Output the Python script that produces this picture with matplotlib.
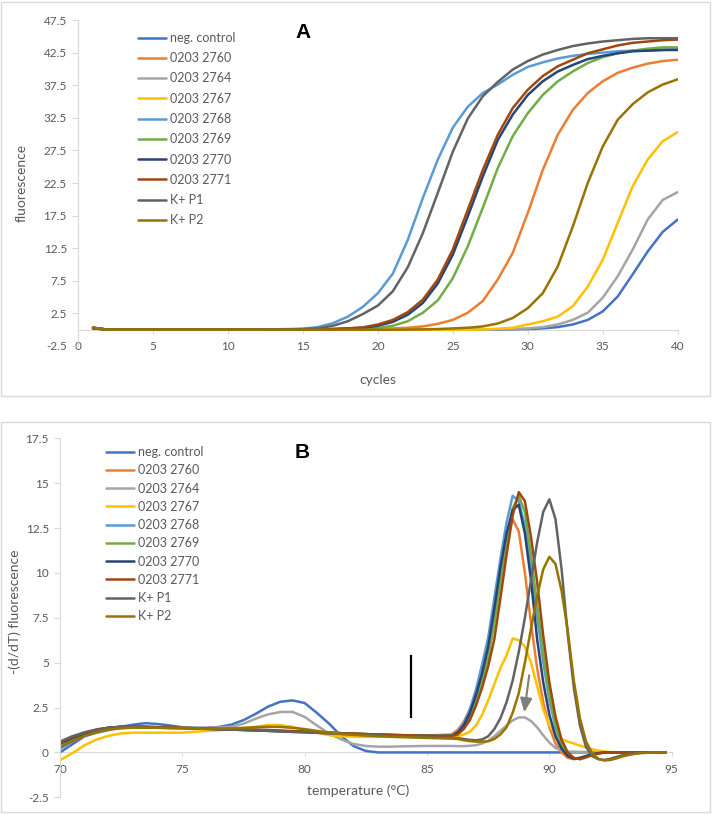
import numpy as np
import matplotlib
matplotlib.use('Agg')
from matplotlib import pyplot as plt
from matplotlib.patches import Rectangle

plt.rcParams['font.family'] = ['Lato', 'DejaVu Sans']

names = ['neg. control', '0203 2760', '0203 2764', '0203 2767', '0203 2768',
         '0203 2769', '0203 2770', '0203 2771', 'K+ P1', 'K+ P2']
colors = ['#4472C4', '#ED7D31', '#A5A5A5', '#FFC000', '#5B9BD5',
          '#70AD47', '#264478', '#9E480E', '#636363', '#997300']

# panel A: amplification, cycles 1..40
cycles = np.arange(1, 41)
z10 = [0] * 10
amp_neg = [0.3] + [0] * 9 + z10 + [0, 0, 0, 0, 0, 0, 0, 0, 0.05, 0.1] + \
    [0.2, 0.4, 0.8, 1.5, 2.8, 5.1, 8.5, 12.0, 15.0, 16.9]
amp_2760 = [0.3] + [0] * 9 + [0, 0, 0, 0, 0, 0, 0.02, 0.05, 0.1, 0.15] + \
    [0.2, 0.3, 0.5, 0.9, 1.5, 2.6, 4.4, 7.7, 11.8, 17.9] + \
    [24.5, 29.9, 33.7, 36.3, 38.1, 39.4, 40.2, 40.8, 41.2, 41.4]
amp_2764 = [0.2] + [0] * 9 + z10 + [0, 0, 0, 0, 0, 0, 0, 0.05, 0.1, 0.2] + \
    [0.4, 0.8, 1.5, 2.6, 4.9, 8.2, 12.3, 16.9, 19.9, 21.1]
amp_2767 = [0.2] + [0] * 9 + z10 + [0, 0, 0, 0, 0, 0, 0.05, 0.15, 0.3, 0.8] + \
    [1.3, 2.0, 3.6, 6.6, 10.7, 16.4, 22.0, 26.1, 28.9, 30.3]
amp_2768 = [0.3] + [0] * 9 + [0, 0.02, 0.05, 0.1, 0.15, 0.4, 1.0, 2.0, 3.5, 5.6] + \
    [8.6, 13.8, 20.2, 26.1, 31.0, 34.2, 36.3, 37.6, 39.1, 40.3] + \
    [41.0, 41.6, 42.0, 42.3, 42.5, 42.7, 42.8, 42.8, 42.9, 43.0]
amp_2769 = [0.2] + [0] * 9 + [0, 0, 0, 0, 0, 0.03, 0.05, 0.1, 0.15, 0.25] + \
    [0.6, 1.3, 2.6, 4.5, 7.9, 12.8, 18.7, 24.8, 29.7, 33.2] + \
    [36.0, 38.1, 39.6, 40.9, 41.8, 42.4, 42.8, 43.1, 43.3, 43.3]
amp_2770 = [0.2] + [0] * 9 + [0, 0, 0, 0, 0, 0.05, 0.1, 0.2, 0.3, 0.6] + \
    [1.2, 2.3, 4.1, 7.1, 11.5, 17.4, 23.5, 29.1, 33.0, 36.0] + \
    [38.1, 39.6, 40.6, 41.5, 42.0, 42.4, 42.7, 42.8, 42.9, 42.9]
amp_2771 = [0.3] + [0] * 9 + [0, 0, 0, 0, 0, 0.05, 0.1, 0.2, 0.35, 0.8] + \
    [1.5, 2.7, 4.6, 7.7, 12.3, 18.4, 24.5, 29.9, 34.0, 36.8] + \
    [38.9, 40.4, 41.4, 42.4, 43.0, 43.6, 44.0, 44.2, 44.4, 44.5]
amp_kp1 = [0.3] + [0] * 9 + [0, 0, 0.02, 0.05, 0.1, 0.2, 0.6, 1.3, 2.4, 3.7] + \
    [5.9, 9.6, 14.8, 21.0, 27.3, 32.4, 35.8, 38.0, 39.9, 41.2] + \
    [42.2, 42.9, 43.5, 43.9, 44.2, 44.4, 44.6, 44.7, 44.7, 44.7]
amp_kp2 = [0.3] + [0] * 9 + z10 + [0, 0.02, 0.05, 0.1, 0.2, 0.3, 0.5, 0.95, 1.8, 3.3] + \
    [5.6, 9.7, 15.8, 22.5, 28.1, 32.2, 34.6, 36.4, 37.6, 38.4]

# panel B: melt curves, 70..86 every 0.5 then 86.25..94.75 every 0.25
temps = np.concatenate([np.arange(70, 86.01, 0.5), np.arange(86.25, 94.76, 0.25)])
zt = [0] * 11
melt_neg = [0.0, 0.45, 0.9, 1.1, 1.25, 1.43, 1.55, 1.63, 1.58, 1.5, 1.4, 1.37, 1.37,
            1.42, 1.55, 1.8, 2.15, 2.55, 2.82, 2.9, 2.75, 2.2, 1.6, 0.9, 0.35, 0.08,
            0, 0, 0, 0, 0, 0, 0] + [0] * 35
melt_2760 = [0.45, 0.75, 1.05, 1.24, 1.37, 1.43, 1.43, 1.42, 1.4, 1.38, 1.37, 1.35, 1.33,
             1.3, 1.28, 1.26, 1.24, 1.22, 1.19, 1.17, 1.15, 1.12, 1.1, 1.07, 1.05, 1.02,
             1.0, 0.98, 0.96, 0.95, 0.95, 0.97, 1.0] + \
    [1.25, 1.7, 2.4, 3.3, 4.4, 5.9, 7.8, 9.9, 11.8, 13.0, 12.3, 10.0, 7.2, 4.7, 2.8,
     1.4, 0.5, 0.0, -0.3, -0.38, -0.32, -0.22, -0.12, -0.05] + zt
melt_2764 = [0.5, 0.75, 0.96, 1.15, 1.28, 1.35, 1.39, 1.38, 1.37, 1.37, 1.37, 1.37, 1.37,
             1.4, 1.43, 1.6, 1.88, 2.12, 2.25, 2.26, 1.98, 1.5, 1.05, 0.72, 0.47, 0.36,
             0.32, 0.32, 0.34, 0.35, 0.36, 0.36, 0.36] + \
    [0.35, 0.35, 0.37, 0.4, 0.5, 0.65, 0.9, 1.2, 1.5, 1.78, 1.95, 1.95, 1.75, 1.4, 0.95,
     0.55, 0.25, 0.1, 0.05, 0.04, 0.03, 0.02, 0.02, 0.01] + zt
melt_2767 = [-0.43, -0.05, 0.4, 0.72, 0.93, 1.06, 1.1, 1.1, 1.1, 1.1, 1.1, 1.15, 1.2,
             1.24, 1.28, 1.35, 1.43, 1.52, 1.52, 1.43, 1.24, 1.1, 0.96, 0.9, 0.87, 0.87,
             0.87, 0.87, 0.87, 0.88, 0.9, 0.88, 0.87] + \
    [0.9, 1.0, 1.15, 1.5, 2.1, 2.9, 3.8, 4.7, 5.4, 6.35, 6.25, 5.9, 5.0, 3.7, 2.4,
     1.5, 1.0, 0.75, 0.6, 0.5, 0.38, 0.28, 0.18, 0.1] + [0.05, 0.02] + [0] * 9
melt_2768 = [0.2, 0.6, 0.95, 1.2, 1.35, 1.42, 1.43, 1.42, 1.4, 1.38, 1.37, 1.35, 1.33,
             1.3, 1.28, 1.26, 1.24, 1.22, 1.19, 1.17, 1.15, 1.12, 1.1, 1.07, 1.05, 1.02,
             1.0, 0.98, 0.96, 0.95, 0.94, 0.93, 0.94] + \
    [1.15, 1.6, 2.4, 3.5, 4.9, 6.4, 8.6, 10.8, 12.8, 14.3, 14.0, 12.6, 10.3, 7.6, 5.0,
     2.9, 1.4, 0.4, -0.15, -0.35, -0.32, -0.22, -0.12, -0.05] + zt
melt_2769 = [0.4, 0.72, 1.02, 1.22, 1.36, 1.42, 1.43, 1.42, 1.4, 1.38, 1.37, 1.35, 1.33,
             1.3, 1.28, 1.26, 1.24, 1.21, 1.19, 1.16, 1.14, 1.12, 1.09, 1.07, 1.04, 1.02,
             0.99, 0.97, 0.95, 0.94, 0.92, 0.91, 0.92] + \
    [1.05, 1.4, 2.0, 2.9, 4.0, 5.3, 7.2, 9.5, 11.7, 13.6, 14.3, 13.4, 11.0, 8.2, 5.5,
     3.2, 1.6, 0.5, -0.1, -0.35, -0.33, -0.23, -0.12, -0.05] + zt
melt_2770 = [0.5, 0.8, 1.06, 1.25, 1.37, 1.43, 1.43, 1.41, 1.39, 1.37, 1.36, 1.34, 1.32,
             1.29, 1.27, 1.25, 1.23, 1.2, 1.18, 1.15, 1.13, 1.1, 1.08, 1.05, 1.03, 1.0,
             0.98, 0.96, 0.94, 0.93, 0.92, 0.91, 0.92] + \
    [1.1, 1.5, 2.2, 3.2, 4.4, 5.9, 8.0, 10.3, 12.2, 13.5, 13.8, 12.2, 9.6, 6.3, 3.9,
     2.1, 0.9, 0.2, -0.2, -0.35, -0.3, -0.2, -0.1, -0.04] + zt
melt_2771 = [0.55, 0.85, 1.1, 1.27, 1.38, 1.43, 1.44, 1.43, 1.41, 1.39, 1.37, 1.35, 1.33,
             1.31, 1.29, 1.28, 1.27, 1.25, 1.22, 1.19, 1.16, 1.13, 1.1, 1.07, 1.05, 1.02,
             1.0, 0.98, 0.96, 0.94, 0.93, 0.92, 0.92] + \
    [1.0, 1.3, 1.8, 2.6, 3.6, 4.8, 6.3, 8.6, 11.0, 13.2, 14.5, 14.0, 12.0, 9.5, 6.5,
     3.9, 2.0, 0.7, 0.0, -0.3, -0.38, -0.28, -0.15, -0.06] + zt
melt_kp1 = [0.6, 0.9, 1.12, 1.28, 1.38, 1.42, 1.42, 1.4, 1.38, 1.36, 1.35, 1.33, 1.31,
            1.29, 1.27, 1.25, 1.23, 1.2, 1.17, 1.14, 1.12, 1.09, 1.06, 1.03, 1.0, 0.97,
            0.94, 0.91, 0.88, 0.86, 0.84, 0.82, 0.8] + \
    [0.8, 0.75, 0.7, 0.68, 0.72, 0.9, 1.3, 1.9, 2.8, 4.0, 5.6, 7.5, 9.6, 11.7, 13.4,
     14.1, 13.0, 10.2, 6.6, 3.6, 1.5, 0.3, -0.2, -0.38, -0.42, -0.35, -0.25, -0.15,
     -0.08, -0.04, -0.02, 0, 0, 0, 0]
melt_kp2 = [0.3, 0.62, 0.92, 1.13, 1.27, 1.35, 1.38, 1.38, 1.37, 1.36, 1.35, 1.34, 1.33,
            1.33, 1.34, 1.37, 1.4, 1.43, 1.42, 1.37, 1.3, 1.2, 1.1, 1.03, 0.98, 0.94,
            0.9, 0.87, 0.85, 0.83, 0.81, 0.79, 0.77] + \
    [0.75, 0.68, 0.63, 0.6, 0.6, 0.62, 0.75, 1.0, 1.4, 2.2, 3.3, 5.0, 6.9, 8.7, 10.2,
     10.9, 10.5, 9.0, 6.8, 4.0, 1.9, 0.6, -0.05, -0.35, -0.45, -0.42, -0.33, -0.22,
     -0.14, -0.08, -0.04, -0.02, 0, 0, 0]

amp = [amp_neg, amp_2760, amp_2764, amp_2767, amp_2768, amp_2769, amp_2770, amp_2771,
       amp_kp1, amp_kp2]
melt = [melt_neg, melt_2760, melt_2764, melt_2767, melt_2768, melt_2769, melt_2770,
        melt_2771, melt_kp1, melt_kp2]

W, H = 712, 814
TXT = '#595959'
GRID = '#D9D9D9'


def fx(px):
    return px / W


def fy(py):
    return 1 - py / H


def style_axes(ax, xticks, yticks, xlim, ylim, yfmt):
    ax.set_xlim(*xlim)
    ax.set_ylim(*ylim)
    for s in ('top', 'right'):
        ax.spines[s].set_visible(False)
    ax.spines['left'].set_color(GRID)
    ax.spines['bottom'].set_position(('data', 0))
    ax.spines['bottom'].set_color(GRID)
    ax.spines['bottom'].set_zorder(0.5)
    ax.set_xticks(xticks)
    ax.set_yticks(yticks)
    ax.set_yticklabels([yfmt(v) for v in yticks])
    ax.tick_params(axis='y', length=4, color=GRID, labelsize=8.5, labelcolor=TXT, pad=4)
    ax.tick_params(axis='x', length=3, color=GRID, labelsize=8.5, labelcolor=TXT, pad=5)
    ax.patch.set_visible(False)


def legend(ax, x_px, y_px, spacing):
    ax.legend(loc='upper left', bbox_to_anchor=(fx(x_px), fy(y_px)),
              bbox_transform=ax.figure.transFigure, frameon=False, fontsize=9,
              labelcolor=TXT, handlelength=2.25, handletextpad=0.3,
              labelspacing=spacing, borderpad=0, borderaxespad=0)


def main():
    fig = plt.figure(figsize=(W / 100, H / 100), dpi=100)

    # panel frames
    fig.patches.append(Rectangle((fx(1), fy(396)), fx(709), 394 / H, transform=fig.transFigure,
                                 fill=False, edgecolor=GRID, lw=1))
    fig.patches.append(Rectangle((fx(1), fy(812)), fx(709), 390 / H, transform=fig.transFigure,
                                 fill=False, edgecolor=GRID, lw=1))

    # A
    ax1 = fig.add_axes([fx(78), fy(346), fx(677.7 - 78), 326 / H])
    for vals, name, c in zip(amp, names, colors):
        ax1.plot(cycles, vals, color=c, lw=1.8, label=name, solid_capstyle='round')
    style_axes(ax1, np.arange(0, 41, 5), np.arange(-2.5, 47.6, 5), (0, 40), (-2.5, 47.5),
               lambda v: '{:.1f}'.format(v))
    legend(ax1, 138, 32, 0.66)
    fig.text(fx(303), fy(33), 'A', fontsize=15, fontweight='bold',
             family='Liberation Sans', ha='center', va='center')
    fig.text(fx(378), fy(380), 'cycles', fontsize=10, color=TXT, ha='center', va='center')
    fig.text(fx(22), fy(183), 'fluorescence', fontsize=10, color=TXT, rotation=90,
             ha='center', va='center')

    # B
    ax2 = fig.add_axes([fx(60), fy(797.3), fx(671.7 - 60), 359 / H])
    for vals, name, c in zip(melt, names, colors):
        ax2.plot(temps, vals, color=c, lw=1.8, label=name, solid_capstyle='round')
    style_axes(ax2, np.arange(70, 96, 5), np.arange(-2.5, 17.6, 2.5), (70, 95), (-2.5, 17.5),
               lambda v: '{:g}'.format(v))
    legend(ax2, 106, 446, 0.5)
    ax2.plot([84.34, 84.34], [1.95, 5.38], color='black', lw=1.6)
    ax2.annotate('', xy=(88.96, 2.08), xytext=(89.19, 4.45),
                 arrowprops=dict(arrowstyle='-|>,head_length=0.7,head_width=0.3',
                                 color='#7F7F7F', lw=1.5, mutation_scale=12))
    fig.text(fx(302), fy(452), 'B', fontsize=15, fontweight='bold',
             family='Liberation Sans', ha='center', va='center')
    fig.text(fx(358), fy(791), 'temperature (°C)', fontsize=10, color=TXT,
             ha='center', va='center')
    fig.text(fx(15), fy(612), '-(d/dT) fluorescence', fontsize=10, color=TXT, rotation=90,
             ha='center', va='center')

    fig.savefig('out.png', dpi=100)


if __name__ == '__main__':
    main()
